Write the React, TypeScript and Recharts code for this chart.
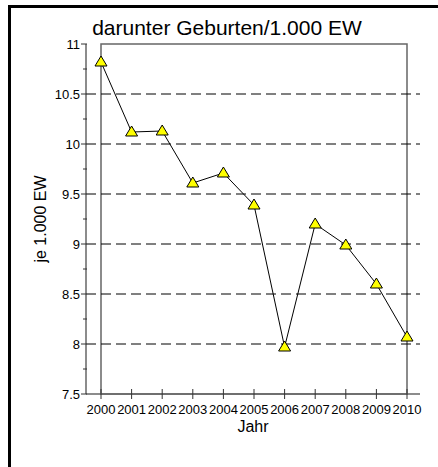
import React from 'react';
import { LineChart, Line, XAxis, YAxis, ReferenceLine, ReferenceArea } from 'recharts';

const years = ['2000', '2001', '2002', '2003', '2004', '2005', '2006', '2007', '2008', '2009', '2010'];
const births = [10.82, 10.12, 10.13, 9.61, 9.71, 9.39, 7.97, 9.2, 8.99, 8.6, 8.07];

const yTicks = [7.5, 7.75, 8, 8.25, 8.5, 8.75, 9, 9.25, 9.5, 9.75, 10, 10.25, 10.5, 10.75, 11];
const majorTicks = [7.5, 8, 8.5, 9, 9.5, 10, 10.5, 11];
const gridValues = [8, 8.5, 9, 9.5, 10, 10.5];

const data = years.map((year, i) => ({ year, value: births[i] }));

const FONT = '"Liberation Sans", Arial, sans-serif';
const AXIS = '#666';

const TriangleDot = (props: any) => {
  const { cx, cy, index } = props;
  if (cx == null || cy == null) return null;
  return (
    <polygon
      key={index}
      points={`${cx},${cy - 6} ${cx - 6},${cy + 4} ${cx + 6},${cy + 4}`}
      fill="#ffff00"
      stroke="#000"
      strokeWidth={1}
    />
  );
};

const YTick = ({ x, y, payload }: any) => {
  const major = majorTicks.includes(payload.value);
  return (
    <g>
      <line x1={major ? x - 5 : x - 3} x2={x + 1} y1={y} y2={y} stroke="#333" />
      {major && (
        <text x={x - 6} y={y} dy="0.36em" textAnchor="end" fontSize={13} fill="#000" fontFamily={FONT}>
          {payload.value}
        </text>
      )}
    </g>
  );
};

const XTick = ({ x, y, payload }: any) => (
  <g>
    <line x1={x} x2={x} y1={y - 5} y2={y + 5} stroke="#333" />
    <text x={x} y={y + 20} textAnchor="middle" fontSize={13} fill="#000" fontFamily={FONT}>
      {payload.value}
    </text>
  </g>
);

export default function App() {
  return (
    <div
      style={{
        position: 'fixed',
        left: 0,
        top: 0,
        width: 438,
        height: 467,
        overflow: 'hidden',
        background: '#fff',
        fontFamily: FONT,
      }}
    >
      {/* outer frame: only top and left edges are visible */}
      <div style={{ position: 'absolute', left: 8, top: 5, width: 430, height: 3, background: '#000' }} />
      <div style={{ position: 'absolute', left: 8, top: 5, width: 3, height: 462, background: '#000' }} />
      <div
        style={{
          position: 'absolute',
          left: 0,
          top: 17,
          width: 454,
          textAlign: 'center',
          fontSize: 21,
          lineHeight: '21px',
          color: '#000',
        }}
      >
        darunter Geburten/1.000 EW
      </div>
      <LineChart
        width={438}
        height={467}
        data={data}
        margin={{ top: 44, right: 18, bottom: 43, left: 26 }}
        style={{ position: 'absolute', left: 0, top: 0, fontFamily: FONT }}
      >
        <ReferenceArea y1={7.5} y2={11} fill="none" stroke={AXIS} strokeWidth={1.5} ifOverflow="visible" />
        {gridValues.map((v) => (
          <ReferenceLine key={v} y={v} stroke="#000" strokeDasharray="10 5" />
        ))}
        <XAxis
          dataKey="year"
          type="category"
          padding={{ left: 15, right: 13 }}
          height={30}
          axisLine={{ stroke: AXIS, strokeWidth: 1.5 }}
          tickLine={false}
          tickSize={0}
          tickMargin={0}
          tick={<XTick />}
          interval={0}
          label={{ value: 'Jahr', position: 'bottom', offset: -3, fontSize: 16, fill: '#000' }}
        />
        <YAxis
          type="number"
          domain={[7.5, 11]}
          ticks={yTicks}
          width={60}
          axisLine={{ stroke: AXIS, strokeWidth: 1.5 }}
          tickLine={false}
          tickSize={0}
          tickMargin={0}
          tick={<YTick />}
          interval={0}
          label={{
            value: 'je 1.000 EW',
            angle: -90,
            position: 'insideLeft',
            offset: 14,
            fontSize: 16,
            fill: '#000',
            style: { textAnchor: 'middle' },
          }}
        />
        <Line
          type="linear"
          dataKey="value"
          stroke="#000"
          strokeWidth={1}
          dot={<TriangleDot />}
          activeDot={false}
          isAnimationActive={false}
        />
      </LineChart>
    </div>
  );
}
